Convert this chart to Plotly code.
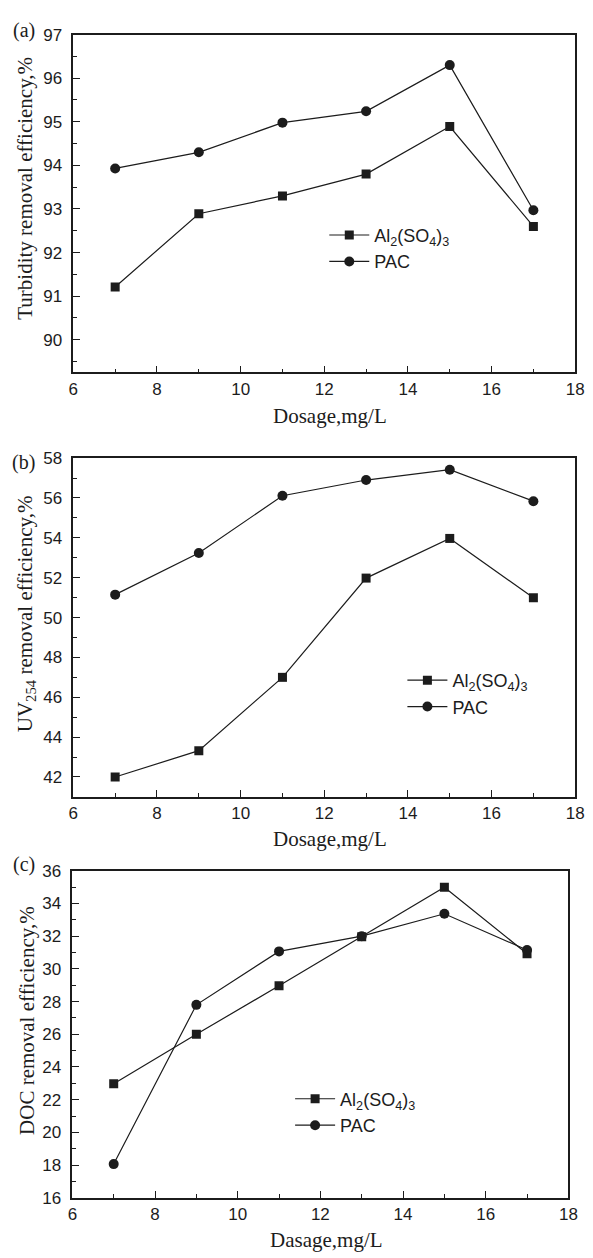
import plotly.graph_objects as go

dosage = [7, 9, 11, 13, 15, 17]

turb_al = [91.21, 92.89, 93.30, 93.80, 94.89, 92.60]
turb_pac = [93.93, 94.30, 94.98, 95.24, 96.30, 92.97]

uv_al = [42.0, 43.32, 47.0, 51.98, 53.97, 50.99]
uv_pac = [51.15, 53.24, 56.11, 56.9, 57.42, 55.84]

doc_al = [22.97, 26.0, 28.97, 31.96, 34.99, 30.93]
doc_pac = [18.06, 27.8, 31.07, 32.0, 33.37, 31.15]

series_names = ["Al<sub>2</sub>(SO<sub>4</sub>)<sub>3</sub>", "PAC"]
panel_labels = ["(a)", "(b)", "(c)"]
y_titles = ["Turbidity removal efficiency,%",
            "UV<sub>254</sub> removal efficiency,%",
            "DOC removal efficiency,%"]
x_titles = ["Dosage,mg/L", "Dosage,mg/L", "Dasage,mg/L"]

W, H = 593, 1258
INK = "#1c1c1c"

def px_x(p):
    return p / W

def px_y(p):
    return 1 - p / H

fig = go.Figure()

panels = [
    dict(al=turb_al, pac=turb_pac, xl=70, xr=584, yt=26, yb=369,
         yrange=[89.25, 97], dtick=1, minor=0.5, titley=413,
         ytitle=(21, 182), lab=(19, 22), leg=(327, 211)),
    dict(al=uv_al, pac=uv_pac, xl=70, xr=584, yt=456, yb=800,
         yrange=[41.0, 58], dtick=2, minor=1, titley=843,
         ytitle=(21, 614), lab=(19, 460), leg=(407, 663)),
    dict(al=doc_al, pac=doc_pac, xl=69, xr=577, yt=875, yb=1207,
         yrange=[16, 36], dtick=2, minor=1, titley=1250,
         ytitle=(23, 1027), lab=(19, 869), leg=(292, 1088)),
]

annotations = []
for i, p in enumerate(panels):
    n = "" if i == 0 else str(i + 1)
    xa, ya = "x" + n, "y" + n
    leg = "legend" if i == 0 else "legend" + str(i + 1)
    fig.add_trace(go.Scatter(
        x=dosage, y=p["al"], mode="lines+markers", name=series_names[0],
        xaxis=xa, yaxis=ya, legend=leg,
        line=dict(color=INK, width=1.2),
        marker=dict(symbol="square", size=9, color=INK)))
    fig.add_trace(go.Scatter(
        x=dosage, y=p["pac"], mode="lines+markers", name=series_names[1],
        xaxis=xa, yaxis=ya, legend=leg,
        line=dict(color=INK, width=1.2),
        marker=dict(symbol="circle", size=10, color=INK)))

    common = dict(showline=True, linecolor=INK, linewidth=1.5, mirror=True,
                  ticks="inside", ticklen=7, tickwidth=1.3, tickcolor=INK,
                  showgrid=False, zeroline=False,
                  tickfont=dict(family="Liberation Sans, Arial", size=17, color=INK))
    fig.layout["xaxis" + n] = dict(
        common, range=[6, 18], dtick=2, tick0=6,
        domain=[px_x(p["xl"]), px_x(p["xr"])], anchor=ya,
        ticklabelstandoff=0,
        minor=dict(ticks="inside", ticklen=4, dtick=1, tick0=6, tickcolor=INK, tickwidth=1.2))
    fig.layout["yaxis" + n] = dict(
        common, range=p["yrange"], dtick=p["dtick"], tick0=0,
        domain=[px_y(p["yb"]), px_y(p["yt"])], anchor=xa,
        ticklabelstandoff=6,
        minor=dict(ticks="inside", ticklen=4, dtick=p["minor"], tick0=0, tickcolor=INK, tickwidth=1.2))

    fig.layout[leg] = dict(
        x=px_x(p["leg"][0]), y=px_y(p["leg"][1]), xanchor="left", yanchor="top",
        bgcolor="rgba(0,0,0,0)", borderwidth=0, tracegroupgap=0,
        font=dict(family="Liberation Sans, Arial", size=18, color=INK),
        itemwidth=40)

    serif = dict(family="Liberation Serif, Times New Roman", size=21, color=INK)
    annotations.append(dict(
        text=x_titles[i], xref="paper", yref="paper",
        x=px_x((p["xl"] + p["xr"]) / 2 + 6), y=px_y(p["titley"]),
        xanchor="center", yanchor="middle", showarrow=False, font=serif))
    annotations.append(dict(
        text=y_titles[i], xref="paper", yref="paper",
        x=px_x(p["ytitle"][0]), y=px_y(p["ytitle"][1]), textangle=-90,
        xanchor="center", yanchor="middle", showarrow=False, font=serif))
    annotations.append(dict(
        text=panel_labels[i], xref="paper", yref="paper",
        x=px_x(p["lab"][0]), y=px_y(p["lab"][1]),
        xanchor="center", yanchor="middle", showarrow=False,
        font=dict(family="Liberation Serif, Times New Roman", size=20, color=INK)))

fig.update_layout(
    width=W, height=H, margin=dict(l=0, r=0, t=0, b=0),
    paper_bgcolor="white", plot_bgcolor="white",
    showlegend=True, annotations=annotations,
)

fig.write_html("out.html")
